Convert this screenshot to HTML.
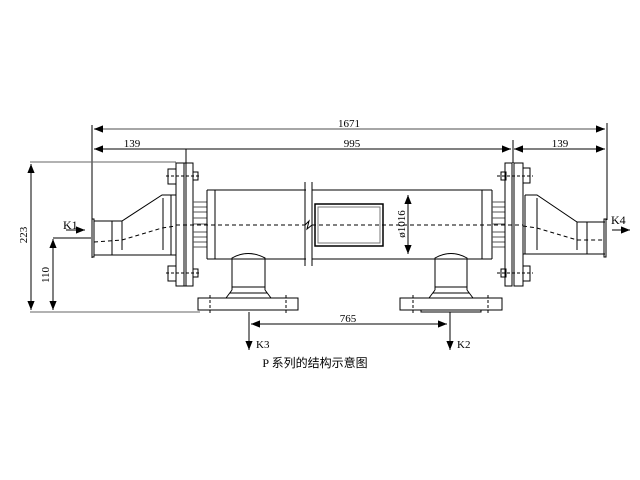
<!DOCTYPE html>
<html><head><meta charset="utf-8"><style>body{margin:0;background:#fff}svg{display:block}</style></head><body>
<svg width="640" height="480" viewBox="0 0 640 480" xmlns="http://www.w3.org/2000/svg" font-family="Liberation Serif, serif" font-size="11">
<defs><marker id="a" viewBox="0 0 10 10" refX="10" refY="5" markerWidth="9" markerHeight="9" markerUnits="userSpaceOnUse" orient="auto-start-reverse"><path d="M0,1L10,5L0,9z" fill="#000"/></marker></defs>
<rect width="640" height="480" fill="#fff"/>
<g stroke="#000" stroke-width="1" fill="none">
<line x1="94" y1="129" x2="605" y2="129" stroke="#888" stroke-width="1.5" marker-start="url(#a)" marker-end="url(#a)"/>
<line x1="94" y1="149" x2="511" y2="149" marker-start="url(#a)" marker-end="url(#a)"/>
<line x1="514" y1="149" x2="605" y2="149" marker-start="url(#a)" marker-end="url(#a)"/>
<line x1="92" y1="125" x2="92" y2="258"/>
<line x1="186" y1="149" x2="186" y2="163"/>
<line x1="513" y1="140" x2="513" y2="163"/>
<line x1="607" y1="123" x2="607" y2="220"/>
<line x1="30" y1="162" x2="176" y2="162" stroke="#666"/>
<line x1="31" y1="164" x2="31" y2="310" marker-start="url(#a)" marker-end="url(#a)"/>
<line x1="30" y1="312" x2="200" y2="312" stroke="#666"/>
<line x1="53" y1="239" x2="53" y2="310" marker-start="url(#a)" marker-end="url(#a)"/>
<line x1="53" y1="238" x2="91" y2="238"/>
<line x1="66" y1="230" x2="85" y2="230" marker-end="url(#a)"/>
<rect x="92" y="219" width="2" height="38"/>
<polyline points="94,221 122,221 162,195 176,195"/>
<line x1="94" y1="255" x2="176" y2="255"/>
<line x1="112" y1="221" x2="112" y2="255"/>
<line x1="122" y1="221" x2="122" y2="250"/>
<line x1="163" y1="198" x2="163" y2="250"/>
<line x1="171" y1="195" x2="171" y2="255"/>
<rect x="176" y="163" width="17" height="123"/>
<line x1="184" y1="163" x2="184" y2="286"/><line x1="186" y1="163" x2="186" y2="286"/>
<rect x="168" y="169" width="8" height="15"/><rect x="193" y="172" width="5" height="8"/>
<rect x="168" y="266" width="8" height="15"/><rect x="193" y="269" width="5" height="8"/>
<line x1="166" y1="176" x2="201" y2="176" stroke-dasharray="3,2"/>
<line x1="166" y1="273" x2="201" y2="273" stroke-dasharray="3,2"/>
<g stroke="#555">
<line x1="193" y1="202" x2="207" y2="202"/><line x1="193" y1="207" x2="207" y2="207"/><line x1="193" y1="212" x2="207" y2="212"/>
<line x1="193" y1="218" x2="207" y2="218"/><line x1="193" y1="224" x2="207" y2="224"/>
<line x1="193" y1="232" x2="207" y2="232"/><line x1="193" y1="237" x2="207" y2="237"/><line x1="193" y1="242" x2="207" y2="242"/><line x1="193" y1="247" x2="207" y2="247"/>
</g>
<line x1="207" y1="190" x2="207" y2="259"/><line x1="215" y1="190" x2="215" y2="259"/>
<line x1="207" y1="190" x2="306" y2="190"/><line x1="207" y1="259" x2="306" y2="259"/>
<line x1="312" y1="190" x2="492" y2="190"/><line x1="312" y1="259" x2="492" y2="259"/>
<line x1="305" y1="182" x2="305" y2="266"/><line x1="312" y1="182" x2="312" y2="266"/>
<line x1="482" y1="190" x2="482" y2="259"/><line x1="492" y1="190" x2="492" y2="259"/>
<rect x="315" y="204" width="68" height="42" stroke-width="1.5"/>
<rect x="318" y="207" width="62" height="36" stroke="#777"/>
<line x1="408" y1="195" x2="408" y2="254" marker-start="url(#a)" marker-end="url(#a)"/>
<g stroke="#555">
<line x1="492" y1="202" x2="505" y2="202"/><line x1="492" y1="207" x2="505" y2="207"/><line x1="492" y1="212" x2="505" y2="212"/>
<line x1="492" y1="218" x2="505" y2="218"/><line x1="492" y1="224" x2="505" y2="224"/>
<line x1="492" y1="232" x2="505" y2="232"/><line x1="492" y1="237" x2="505" y2="237"/><line x1="492" y1="242" x2="505" y2="242"/><line x1="492" y1="247" x2="505" y2="247"/>
</g>
<rect x="505" y="163" width="7" height="123"/><rect x="514" y="163" width="9" height="123"/>
<rect x="501" y="172" width="5" height="8"/><rect x="523" y="168" width="7" height="15"/>
<rect x="501" y="269" width="5" height="8"/><rect x="523" y="266" width="7" height="15"/>
<line x1="497" y1="176" x2="533" y2="176" stroke-dasharray="3,2"/>
<line x1="497" y1="273" x2="533" y2="273" stroke-dasharray="3,2"/>
<polyline points="525,195 537,195 577,222 605,222"/>
<line x1="525" y1="195" x2="525" y2="254"/>
<line x1="523" y1="254" x2="605" y2="254"/>
<line x1="537" y1="198" x2="537" y2="250"/>
<line x1="577" y1="222" x2="577" y2="250"/>
<line x1="587" y1="222" x2="587" y2="254"/>
<rect x="604" y="219" width="2" height="38"/>
<line x1="612" y1="230" x2="630" y2="230" marker-end="url(#a)"/>
<polyline points="94,242 122,240 162,228 176,226" stroke-dasharray="4,3"/>
<line x1="176" y1="225" x2="305" y2="225" stroke-dasharray="4,3"/>
<polyline points="305,225 309,221 307,229 312,225" />
<line x1="312" y1="225" x2="523" y2="225" stroke-dasharray="4,3"/>
<polyline points="523,226 537,228 577,240 605,240" stroke-dasharray="4,3"/>
<path d="M232,290 L232,258 Q248,249 265,258 L265,290"/>
<line x1="232" y1="287" x2="265" y2="287"/>
<path d="M232,290 Q229,294 226,298 M265,290 Q268,294 271,298"/>
<line x1="230" y1="293" x2="267" y2="293"/>
<rect x="198" y="298" width="100" height="12"/>
<line x1="210" y1="295" x2="210" y2="314" stroke-dasharray="3,2"/>
<line x1="286" y1="295" x2="286" y2="314" stroke-dasharray="3,2"/>
<line x1="249" y1="312" x2="249" y2="350" marker-end="url(#a)"/>
<path d="M435,290 L435,258 Q451,249 467,258 L467,290"/>
<line x1="435" y1="287" x2="467" y2="287"/>
<path d="M435,290 Q432,294 429,298 M467,290 Q470,294 473,298"/>
<line x1="433" y1="293" x2="469" y2="293"/>
<rect x="400" y="298" width="102" height="12"/>
<rect x="421" y="310" width="60" height="2"/>
<line x1="413" y1="295" x2="413" y2="314" stroke-dasharray="3,2"/>
<line x1="488" y1="295" x2="488" y2="314" stroke-dasharray="3,2"/>
<line x1="450" y1="312" x2="450" y2="350" marker-end="url(#a)"/>
<line x1="251" y1="324" x2="447" y2="324" marker-start="url(#a)" marker-end="url(#a)"/>
</g>
<g fill="#000">
<text x="349" y="127" text-anchor="middle">1671</text>
<text x="352" y="147" text-anchor="middle">995</text>
<text x="132" y="147" text-anchor="middle">139</text>
<text x="560" y="147" text-anchor="middle">139</text>
<text x="348" y="322" text-anchor="middle">765</text>
<text x="63" y="229" font-size="12">K1</text>
<text x="611" y="224" font-size="12">K4</text>
<text x="256" y="348" font-size="11">K3</text>
<text x="457" y="348" font-size="11">K2</text>
<text transform="translate(27,235) rotate(-90)" text-anchor="middle">223</text>
<text transform="translate(49,275) rotate(-90)" text-anchor="middle">110</text>
<text transform="translate(405,224) rotate(-90)" text-anchor="middle">ø1016</text>
<text x="315" y="367" text-anchor="middle" font-size="12" font-family="Liberation Serif, 'Noto Sans CJK SC', sans-serif">P 系列的结构示意图</text>
</g>
</svg>
</body></html>
